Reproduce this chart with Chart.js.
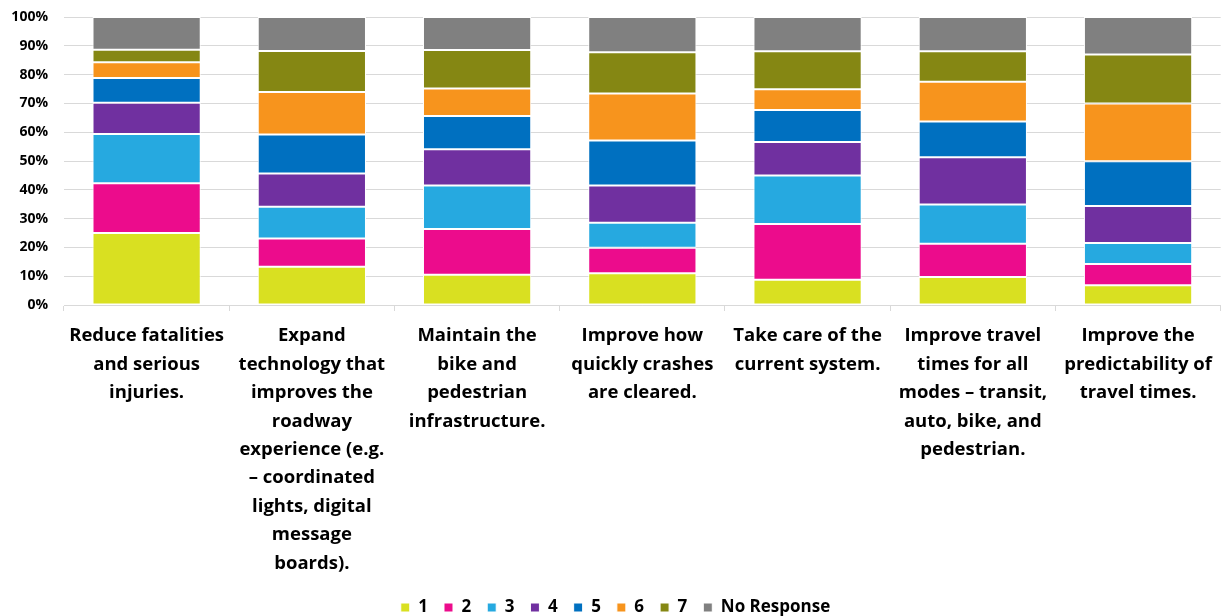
<!DOCTYPE html>
<html>
<head>
<meta charset="utf-8">
<script src="https://cdn.jsdelivr.net/npm/chart.js@4/dist/chart.umd.min.js"></script>
<style>
    body { margin: 0; background: #fff; }
    #chart-wrap { width: 1223px; height: 616px; }
</style>
</head>
<body>
<div id="chart-wrap"><canvas id="priorityChart" width="1223" height="616"></canvas></div>
<script>
// categories (already broken into lines like the original)
const categories = [
    ["Reduce fatalities", "and serious", "injuries."],
    ["Expand", "technology that", "improves the", "roadway", "experience (e.g.", "– coordinated", "lights, digital", "message", "boards)."],
    ["Maintain the", "bike and", "pedestrian", "infrastructure."],
    ["Improve how", "quickly crashes", "are cleared."],
    ["Take care of the", "current system."],
    ["Improve travel", "times for all", "modes – transit,", "auto, bike, and", "pedestrian."],
    ["Improve the", "predictability of", "travel times."]
];

const seriesNames = ["1", "2", "3", "4", "5", "6", "7", "No Response"];

// share of responses per rank (%)
const rank1 = [25.0, 13.3, 10.5, 11.0, 8.8, 9.7, 6.9];
const rank2 = [17.3, 9.8, 15.9, 8.9, 19.3, 11.6, 7.3];
const rank3 = [17.1, 11.0, 15.1, 8.7, 16.9, 13.6, 7.3];
const rank4 = [10.8, 11.6, 12.6, 12.9, 11.6, 16.4, 12.9];
const rank5 = [8.6, 13.5, 11.5, 15.6, 11.1, 12.4, 15.5];
const rank6 = [5.5, 14.8, 9.6, 16.3, 7.2, 13.8, 20.1];
const rank7 = [4.3, 14.2, 13.3, 14.4, 13.2, 10.6, 17.0];
const noResponse = [11.4, 11.8, 11.5, 12.2, 11.9, 11.9, 13.0];

const yTicks = [0, 10, 20, 30, 40, 50, 60, 70, 80, 90, 100];

const seriesColors = ["#d9e021", "#ec0c8c", "#26a9e0", "#7030a0", "#0070c0", "#f7941d", "#858713", "#808080"];
const allSeries = [rank1, rank2, rank3, rank4, rank5, rank6, rank7, noResponse];

const labelFont = "'Open Sans', Lato, sans-serif";

const ctx = document.getElementById("priorityChart").getContext("2d");
new Chart(ctx, {
    type: "bar",
    data: {
        labels: categories,
        datasets: allSeries.map((values, i) => ({
            label: seriesNames[i],
            data: values,
            backgroundColor: seriesColors[i],
            borderColor: "#ffffff",
            borderWidth: 1,
            borderSkipped: false,
            categoryPercentage: 1,
            barPercentage: 0.655
        }))
    },
    options: {
        responsive: false,
        animation: false,
        // small left padding nudges the centred legend a bit to the right
        layout: { padding: { top: 17, right: 1, left: 9, bottom: -10 } },
        scales: {
            x: {
                stacked: true,
                afterFit: axis => { axis.height = 278; },
                grid: {
                    display: true,
                    drawOnChartArea: false,
                    drawTicks: true,
                    tickLength: 6,
                    color: "#d9d9d9",
                    offset: true
                },
                border: { color: "#d9d9d9" },
                ticks: {
                    maxRotation: 0,
                    autoSkip: false,
                    color: "#000",
                    padding: 11,
                    font: { family: labelFont, size: 18.5, weight: "bold", lineHeight: 1.535 }
                }
            },
            y: {
                stacked: true,
                min: 0,
                max: 100,
                afterBuildTicks: axis => { axis.ticks = yTicks.map(v => ({ value: v })); },
                afterFit: axis => { axis.width = 55; },
                grid: { color: "#d9d9d9", drawTicks: true, tickLength: 14, tickColor: "rgba(0,0,0,0)" },
                border: { display: false },
                ticks: {
                    color: "#000",
                    padding: 2,
                    font: { family: labelFont, size: 14, weight: "bold" },
                    callback: v => v + "%"
                }
            }
        },
        plugins: {
            legend: {
                position: "bottom",
                labels: {
                    color: "#000",
                    boxWidth: 9,
                    boxHeight: 9,
                    padding: 16,
                    font: { family: labelFont, size: 17, weight: "bold" }
                }
            },
            tooltip: { enabled: false }
        }
    }
});
</script>
</body>
</html>
